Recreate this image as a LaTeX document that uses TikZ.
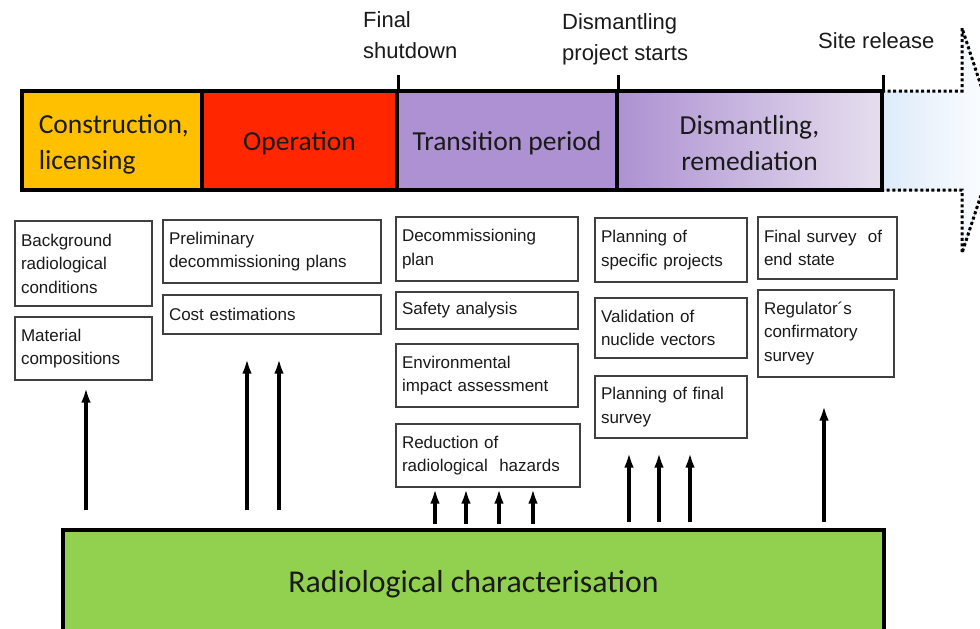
\documentclass[tikz,border=0pt]{standalone}
\usepackage{fontspec}
\setmainfont{Liberation Sans}
\newfontfamily\calfont{Carlito}
\usetikzlibrary{arrows.meta}

\definecolor{textc}{HTML}{1A1A1A}
\definecolor{boxc}{HTML}{404040}
\definecolor{cgold}{HTML}{FFC000}
\definecolor{cred}{HTML}{FF2600}
\definecolor{cpurple}{HTML}{AD91D2}
\definecolor{cpurpleL}{HTML}{E6DEEE}
\definecolor{cblue}{HTML}{DDEBFA}
\definecolor{cgreen}{HTML}{92D050}

\begin{document}
\begin{tikzpicture}[x=1pt,y=-1pt,
  phase/.style={draw=black, line width=3.5pt, minimum height=99, inner sep=0pt},
  phaselabel/.style={text=textc, font=\calfont\fontsize{27.5}{36}\selectfont, align=center},
  infobox/.style={draw=boxc, line width=1.1pt, fill=white, align=left,
    inner xsep=6pt, inner ysep=0pt, text=textc, font=\fontsize{17}{23.5}\selectfont},
  milestone/.style={anchor=north west, inner sep=0pt, align=left, text=textc,
    font=\fontsize{22}{31}\selectfont},
  tick/.style={line width=3pt},
  arr/.style={line width=3.4pt, -{Latex[length=15pt,width=9.5pt]}},
  dotline/.style={line width=3pt, dash pattern=on 3pt off 2.6pt}]

\useasboundingbox (0,0) rectangle (980,629);
\clip (0,0) rectangle (980,629);

% open-ended continuation arrow after site release
\coordinate (sh1) at (882,91);
\coordinate (sh2) at (962,91);
\coordinate (hd1) at (962,28);
\coordinate (tip) at (999,140.5);
\coordinate (hd2) at (962,253);
\coordinate (sh3) at (962,190);
\coordinate (sh4) at (882,190);
\fill[left color=cblue, right color=white]
  (sh1) -- (sh2) -- (hd1) -- (tip) -- (hd2) -- (sh3) -- (sh4) -- cycle;
\draw[dotline] (sh1) -- (sh2) -- (hd1) -- (tip) -- (hd2) -- (sh3) -- (sh4);

% life-cycle phases
\node[phase, fill=cgold, minimum width=180,
  label={[phaselabel, align=left, anchor=west, xshift=15pt, yshift=-4pt]west:{Construction,\\licensing}}]
  (p1) at (112,140.5) {};
\node[phase, fill=cred, minimum width=195,
  label={[phaselabel, yshift=-3pt]center:Operation}] (p2) at (299.5,140.5) {};
\node[phase, fill=cpurple, minimum width=220,
  label={[phaselabel, yshift=-3pt]center:Transition period}] (p3) at (507,140.5) {};
\node[phase, left color=cpurple, right color=cpurpleL, minimum width=265,
  label={[phaselabel, yshift=-3pt]center:{Dismantling,\\remediation}}] (p4) at (749.5,140.5) {};

% milestones
\draw[tick] (p2.north east) ++(0,1.75) -- ++(0,-15.75);
\draw[tick] (p3.north east) ++(0,1.75) -- ++(0,-15.75);
\draw[tick] (p4.north east) ++(0,1.75) -- ++(0,-15.75);
\node[milestone] (m1) at (363,11) {Final\\shutdown};
\node[milestone] (m2) at (562,13) {Dismantling\\project starts};
\node[milestone] (m3) at (818,32) {Site release};

% activities in each phase
\node[infobox, text width=125, minimum height=85] (b1) at (83.5,263.5) {Background\\radiological\\conditions};
\node[infobox, text width=125, minimum height=63] (b2) at (83.5,348.5) {Material\\compositions};
\node[infobox, text width=206, minimum height=63] (b3) at (272,251.5) {Preliminary\\decommissioning plans};
\node[infobox, text width=206, minimum height=39] (b4) at (272,314.5) {Cost estimations};
\node[infobox, text width=170, minimum height=64] (b5) at (487,249) {Decommissioning\\plan};
\node[infobox, text width=170, minimum height=37] (b6) at (487,310.5) {Safety analysis};
\node[infobox, text width=170, minimum height=63] (b7) at (487,375.5) {Environmental\\impact assessment};
\node[infobox, text width=172, minimum height=63] (b8) at (488,455.5) {Reduction of\\radiological\ \ hazards};
\node[infobox, text width=140, minimum height=64] (b9) at (671,250) {Planning of\\specific projects};
\node[infobox, text width=140, minimum height=60] (b10) at (671,328) {Validation of\\nuclide vectors};
\node[infobox, text width=140, minimum height=62] (b11) at (671,407) {Planning of final\\survey};
\node[infobox, text width=127, minimum height=62] (b12) at (827.5,248) {Final survey\ \ of\\end state};
\node[infobox, text width=124, minimum height=87] (b13) at (826,333.5) {Regulator´s\\confirmatory\\survey};

% characterisation base
\node[draw=black, line width=4pt, fill=cgreen, minimum width=821, minimum height=104,
  label={[text=textc, font=\calfont\fontsize{31.8}{36}\selectfont, yshift=-2pt]center:Radiological characterisation}]
  (rc) at (473.5,582) {};

% inputs from characterisation
\coordinate (s1) at (86,510);
\coordinate (s2) at (247,510);
\coordinate (s3) at (279,510);
\coordinate (s4) at (435,524);
\coordinate (s5) at (466,524);
\coordinate (s6) at (499,524);
\coordinate (s7) at (533,524);
\coordinate (s8) at (629,522);
\coordinate (s9) at (659,522);
\coordinate (s10) at (690,522);
\coordinate (s11) at (824,522);
\draw[arr, shorten >=7pt] (s1) -- (s1 |- b2.south);
\draw[arr, shorten >=24pt] (s2) -- (s2 |- b4.south);
\draw[arr, shorten >=24pt] (s3) -- (s3 |- b4.south);
\foreach \s in {s4,s5,s6,s7}
  \draw[arr, shorten >=1pt] (\s) -- (\s |- b8.south);
\foreach \s in {s8,s9,s10}
  \draw[arr, shorten >=14pt] (\s) -- (\s |- b11.south);
\draw[arr, shorten >=28pt] (s11) -- (s11 |- b13.south);
\end{tikzpicture}
\end{document}
